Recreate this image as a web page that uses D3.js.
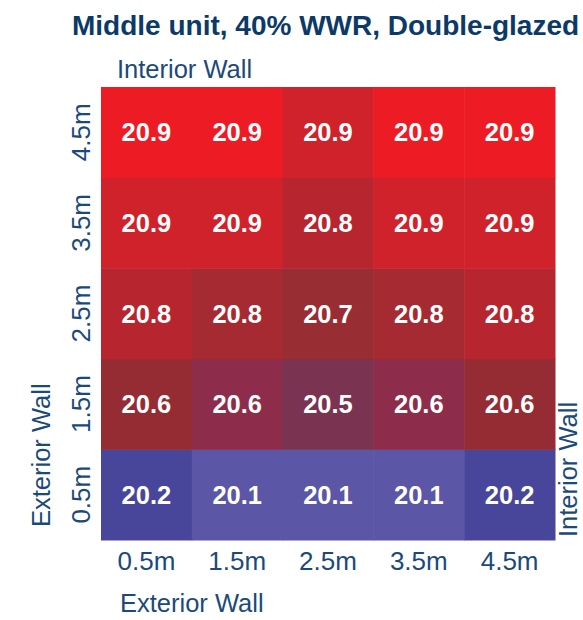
<!DOCTYPE html>
<html>
<head>
<meta charset="utf-8">
<script src="https://cdn.jsdelivr.net/npm/d3@7"></script>
<style>
  html, body { margin: 0; padding: 0; background: #ffffff; overflow: hidden; }
  svg { display: block; }
</style>
</head>
<body>
<svg id="chart" width="583" height="620"></svg>
<script>
// ---- data ----
const title = "Middle unit, 40% WWR, Double-glazed";
const topLabel = "Interior Wall";
const rightLabel = "Interior Wall";
const bottomLabel = "Exterior Wall";
const leftLabel = "Exterior Wall";
const xLabels = ["0.5m", "1.5m", "2.5m", "3.5m", "4.5m"];
const yLabels = ["0.5m", "1.5m", "2.5m", "3.5m", "4.5m"];
// temperatures (°C) per row (y), columns follow xLabels
const row05 = [20.22, 20.14, 20.14, 20.14, 20.22];
const row15 = [20.62, 20.58, 20.50, 20.58, 20.62];
const row25 = [20.82, 20.77, 20.71, 20.77, 20.82];
const row35 = [20.88, 20.88, 20.82, 20.88, 20.88];
const row45 = [20.94, 20.94, 20.88, 20.94, 20.94];
const rows = [row05, row15, row25, row35, row45];

// ---- layout ----
const svg = d3.select("#chart");
const gLeft = 101, gRight = 555, gTop = 87, gBottom = 540;
const labelColor = "#1b4a7a";
const font = "'Liberation Sans', Arial, Helvetica, sans-serif";

const x = d3.scaleBand().domain(xLabels).range([gLeft, gRight]).padding(0);
const y = d3.scaleBand().domain(yLabels).range([gBottom, gTop]).padding(0);

const color = d3.scaleLinear()
  .domain([20.14, 20.22, 20.50, 20.58, 20.62, 20.71, 20.77, 20.82, 20.88, 20.94])
  .range(["#5b56a5", "#48469a", "#7a3350", "#8e2d4b", "#952c33", "#982d34", "#a62a31", "#b7262f", "#d0222a", "#ed1c24"])
  .clamp(true);

const cells = [];
rows.forEach((r, i) => r.forEach((v, j) => cells.push({ xk: xLabels[j], yk: yLabels[i], v })));

const fmt = d3.format(".1f");

svg.append("g").selectAll("rect").data(cells).join("rect")
  .attr("x", d => x(d.xk))
  .attr("y", d => y(d.yk))
  .attr("width", x.bandwidth() + 0.5)
  .attr("height", y.bandwidth() + 0.5)
  .attr("fill", d => color(d.v));

svg.append("g").selectAll("text").data(cells).join("text")
  .attr("x", d => x(d.xk) + x.bandwidth() / 2)
  .attr("y", d => y(d.yk) + y.bandwidth() / 2)
  .attr("dy", "0.36em")
  .attr("text-anchor", "middle")
  .attr("font-family", font)
  .attr("font-weight", "bold")
  .attr("font-size", 25.5)
  .attr("fill", "#ffffff")
  .text(d => fmt(d.v));

// title
svg.append("text")
  .attr("x", 72).attr("y", 35)
  .attr("font-family", font).attr("font-weight", "bold").attr("font-size", 28)
  .attr("fill", "#0c3a68")
  .text(title);

// top label
svg.append("text")
  .attr("x", 117).attr("y", 78)
  .attr("font-family", font).attr("font-size", 25.5)
  .attr("fill", labelColor)
  .text(topLabel);

// bottom axis
const xAxis = svg.append("g")
  .attr("transform", `translate(0,${gBottom})`)
  .call(d3.axisBottom(x).tickSize(0).tickPadding(12));
xAxis.select(".domain").remove();
xAxis.selectAll("text")
  .attr("font-family", font).attr("font-size", 26)
  .attr("fill", labelColor);

// left axis labels (rotated)
svg.append("g").selectAll("text").data(yLabels).join("text")
  .attr("transform", d => `translate(90,${y(d) + y.bandwidth() / 2}) rotate(-90)`)
  .attr("text-anchor", "middle")
  .attr("font-family", font).attr("font-size", 26)
  .attr("fill", labelColor)
  .text(d => d);

// bottom label
svg.append("text")
  .attr("x", 120).attr("y", 612)
  .attr("font-family", font).attr("font-size", 25.5)
  .attr("fill", labelColor)
  .text(bottomLabel);

// left label (rotated)
svg.append("text")
  .attr("transform", `translate(50,527) rotate(-90)`)
  .attr("font-family", font).attr("font-size", 25.5)
  .attr("fill", labelColor)
  .text(leftLabel);

// right label (rotated, at the page edge)
svg.append("text")
  .attr("transform", `translate(577,537) rotate(-90)`)
  .attr("font-family", font).attr("font-size", 25.5)
  .attr("fill", labelColor)
  .text(rightLabel);
</script>
</body>
</html>
